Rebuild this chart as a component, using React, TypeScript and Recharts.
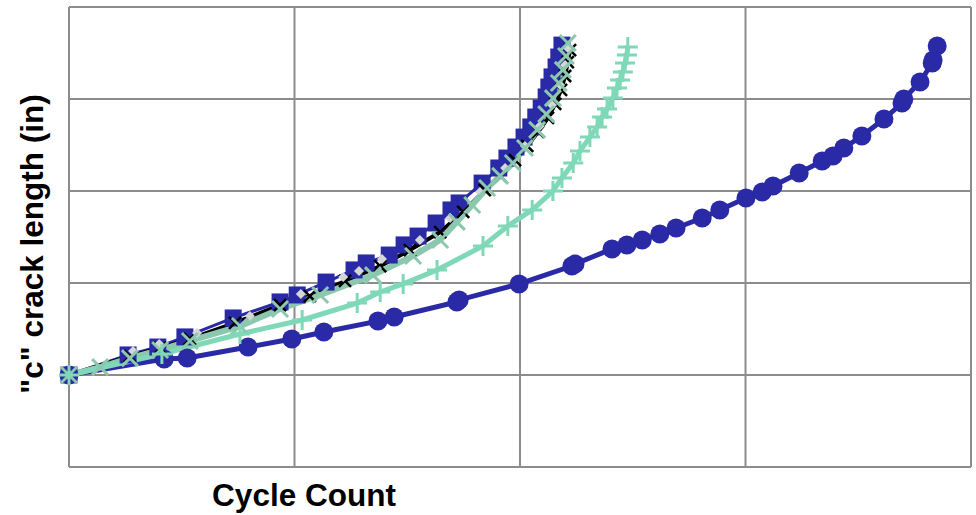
import React from 'react';
import { LineChart, Line, XAxis, YAxis, ReferenceLine } from 'recharts';

// cycles on x, crack length (in) on y
const xTicks = [0, 50000, 100000, 150000, 200000];
const yTicks = [0, 0.05, 0.1, 0.15, 0.2, 0.25];

const circleX = [0, 21100, 26200, 39700, 49400, 56500, 68500, 72100, 86000, 86500, 99800, 111500, 112200, 120400, 123700, 127100, 131000, 134600, 140400, 144300, 150100, 153700, 156100, 161900, 167000, 169400, 171800, 175800, 180700, 184700, 185100, 188700, 191400, 191600, 192500];
const circleY = [0.05, 0.0587, 0.0592, 0.0652, 0.0696, 0.0734, 0.0793, 0.0815, 0.0897, 0.0908, 0.0995, 0.1092, 0.1103, 0.1185, 0.1207, 0.1234, 0.1266, 0.1299, 0.1353, 0.1397, 0.1462, 0.1495, 0.1527, 0.1598, 0.1663, 0.169, 0.1734, 0.1799, 0.1891, 0.1978, 0.2, 0.2092, 0.2196, 0.2212, 0.2288];

const squareX = [0, 13100, 19700, 25700, 36400, 46800, 50600, 57000, 63200, 65900, 71000, 74300, 77400, 81400, 84700, 86500, 91600, 95300, 97100, 99100, 100900, 102400, 103500, 104700, 105800, 106400, 107100, 108000, 108600, 109300];
const squareY = [0.05, 0.0609, 0.0652, 0.0707, 0.081, 0.0897, 0.0935, 0.1005, 0.1071, 0.1109, 0.1152, 0.1207, 0.1255, 0.1326, 0.1397, 0.1435, 0.1543, 0.1625, 0.1679, 0.1739, 0.1793, 0.1848, 0.1902, 0.1951, 0.2011, 0.2065, 0.212, 0.2174, 0.2228, 0.2293];

const blackX = [0, 13500, 20200, 26800, 36800, 46800, 53400, 61200, 69000, 75600, 82300, 87400, 92200, 95600, 98900, 101600, 104000, 106200, 107800, 109100, 110000, 110600, 111100];
const blackY = [0.05, 0.0603, 0.0647, 0.0696, 0.0783, 0.088, 0.0929, 0.1011, 0.1092, 0.1179, 0.1277, 0.1386, 0.1505, 0.1582, 0.1668, 0.1745, 0.1821, 0.1897, 0.1973, 0.2049, 0.2125, 0.2201, 0.2266];

const diamondX = [0, 14200, 20000, 28400, 40100, 51400, 60800, 64300, 69400, 77800, 84500, 91100, 96700, 101100, 104400, 107100, 108900, 110000, 110600];
const diamondY = [0.05, 0.063, 0.0668, 0.0728, 0.0821, 0.094, 0.1033, 0.1065, 0.113, 0.1234, 0.1353, 0.1495, 0.1625, 0.1745, 0.1853, 0.1967, 0.2076, 0.2185, 0.2277];

const sageX = [0, 6900, 13500, 20200, 26800, 37900, 46800, 55700, 67400, 76300, 82300, 86000, 89400, 92700, 95600, 98400, 101100, 103800, 105800, 107300, 108600, 109500, 110200, 110600];
const sageY = [0.05, 0.0543, 0.0592, 0.0636, 0.0685, 0.0766, 0.0859, 0.0935, 0.1043, 0.1147, 0.1234, 0.1332, 0.1424, 0.1516, 0.1582, 0.1652, 0.1734, 0.1832, 0.1918, 0.2005, 0.2087, 0.2158, 0.2234, 0.2304];

const mintX = [0, 20600, 37900, 51700, 63900, 69000, 74100, 81600, 91800, 97300, 102700, 107300, 109300, 111800, 113300, 115500, 117100, 118200, 119300, 120600, 121500, 122200, 122800, 123300, 123700, 123900];
const mintY = [0.05, 0.0614, 0.0723, 0.0799, 0.0891, 0.0951, 0.0995, 0.1071, 0.1201, 0.131, 0.1397, 0.15, 0.1571, 0.1652, 0.1717, 0.1793, 0.1848, 0.1902, 0.1946, 0.2005, 0.206, 0.2103, 0.2147, 0.2196, 0.2239, 0.2283];

const zip = (xs: number[], ys: number[]) => xs.map((x, i) => ({ x, y: ys[i] }));

const BLUE = '#2a2aa7';
const SAGE = '#8cc8af';
const MINT = '#7fd8b7';
const GRID = '#8c8c8c';

const circleDot = (p: any) => (
  <circle key={`c-${p.index}`} cx={p.cx} cy={p.cy} r={9.5} fill={BLUE} />
);
const squareDot = (p: any) => (
  <rect key={`s-${p.index}`} x={p.cx - 8.5} y={p.cy - 8.5} width={17} height={17} fill={BLUE} />
);
const crossDot = (color: string, size: number, width: number, tag: string) => (p: any) => (
  <path
    key={`${tag}-${p.index}`}
    d={`M${p.cx - size},${p.cy - size}L${p.cx + size},${p.cy + size}M${p.cx - size},${p.cy + size}L${p.cx + size},${p.cy - size}`}
    stroke={color}
    strokeWidth={width}
    fill="none"
  />
);
const plusDot = (p: any) => (
  <path
    key={`p-${p.index}`}
    d={`M${p.cx - 10},${p.cy}L${p.cx + 10},${p.cy}M${p.cx},${p.cy - 10}L${p.cx},${p.cy + 10}`}
    stroke={MINT}
    strokeWidth={3}
    fill="none"
  />
);
const diamondDot = (p: any) => (
  <path
    key={`d-${p.index}`}
    d={`M${p.cx},${p.cy - 5}L${p.cx + 5},${p.cy}L${p.cx},${p.cy + 5}L${p.cx - 5},${p.cy}Z`}
    fill="#d6d6d6"
  />
);

const labelStyle: React.CSSProperties = {
  position: 'absolute',
  fontFamily: '"Liberation Sans", Arial, sans-serif',
  fontWeight: 'bold',
  fontSize: 31.5,
  color: '#000',
  whiteSpace: 'nowrap',
};

export default function App() {
  return (
    <div style={{ position: 'fixed', left: 0, top: 0, width: 976, height: 515, background: '#fff' }}>
      <LineChart width={976} height={515} margin={{ top: 7, right: 5, bottom: 48, left: 69 }}>
        <XAxis type="number" dataKey="x" domain={[0, 200000]} ticks={xTicks} tick={false} tickLine={false} axisLine={false} height={0} allowDuplicatedCategory={false} />
        <YAxis type="number" dataKey="y" domain={[0, 0.25]} ticks={yTicks} tick={false} tickLine={false} axisLine={false} width={0} />
        {xTicks.map((v) => (
          <ReferenceLine key={`vx-${v}`} x={v} stroke={GRID} strokeWidth={2} ifOverflow="extendDomain" />
        ))}
        {yTicks.map((v) => (
          <ReferenceLine key={`hy-${v}`} y={v} stroke={GRID} strokeWidth={2} ifOverflow="extendDomain" />
        ))}
        <Line data={zip(circleX, circleY)} dataKey="y" stroke={BLUE} strokeWidth={5} dot={circleDot} isAnimationActive={false} />
        <Line data={zip(squareX, squareY)} dataKey="y" stroke={BLUE} strokeWidth={3} dot={squareDot} isAnimationActive={false} />
        <Line data={zip(blackX, blackY)} dataKey="y" stroke="#000" strokeWidth={4} dot={crossDot('#000', 6, 2.5, 'b')} isAnimationActive={false} />
        <Line data={zip(diamondX, diamondY)} dataKey="y" stroke="none" dot={diamondDot} isAnimationActive={false} />
        <Line data={zip(sageX, sageY)} dataKey="y" stroke={SAGE} strokeWidth={6} dot={crossDot(SAGE, 8, 3, 'g')} isAnimationActive={false} />
        <Line data={zip(mintX, mintY)} dataKey="y" stroke={MINT} strokeWidth={5} dot={plusDot} isAnimationActive={false} />
      </LineChart>
      <div style={{ ...labelStyle, left: 304, top: 477, transform: 'translateX(-50%)' }}>Cycle Count</div>
      <div style={{ ...labelStyle, left: 32, top: 244, transform: 'translate(-50%, -50%) rotate(-90deg)' }}>"c" crack length (in)</div>
    </div>
  );
}
